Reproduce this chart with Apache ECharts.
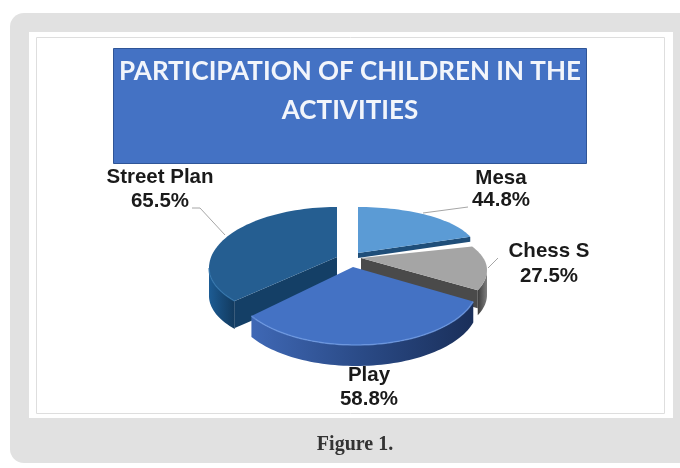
<!DOCTYPE html>
<html>
<head>
<meta charset="utf-8">
<style>
  html, body { margin: 0; padding: 0; background: #fff; }
  #main { width: 680px; height: 468px; }
</style>
<script src="https://cdn.jsdelivr.net/npm/echarts@6/dist/echarts.min.js"></script>
</head>
<body>
<div id="main"></div>
<script>
  // values
  const categories = ['Mesa', 'Chess S', 'Play', 'Street Plan'];
  const labelValues = ['44.8%', '27.5%', '58.8%', '65.5%'];
  // slices as drawn in the picture are not proportional to the labels, sweep in degrees
  const sliceSweeps = [72, 40, 124, 124];
  const titleLines = ['PARTICIPATION OF CHILDREN IN THE', 'ACTIVITIES'];
  const caption = 'Figure 1.';

  // each slice is pulled out on its own: apex, ellipse centre and radii per slice
  // pad widens the drawn arc a little where the tilted ellipses do not meet
  const sliceGeom = [
    { ax: 358, ay: 253, x: 358, y: 250, rx: 118, back: 43, front: 43, side: 0, wall: 5, order: 3, pad: [0, 0] },
    { ax: 361, ay: 258, x: 360, y: 270, rx: 127, back: 50, front: 54, side: 25, wall: 18, order: 2, pad: [10, 0] },
    { ax: 353, ay: 267, x: 356, y: 285, rx: 122, back: 46, front: 60, side: 21, wall: 0, order: 4, pad: [6, 3] },
    { ax: 337, ay: 257, x: 337, y: 268, rx: 128, back: 61, front: 55, side: 28, wall: 27, order: 1, pad: [3, 0] }
  ];
  const sliceColors = [
    { top: '#5b9bd5', wall: '#1f4e79', side: ['#1f4e79', '#1f4e79'] },
    { top: '#a5a5a5', wall: '#4a4a4a', side: ['#3c3c3c', '#7f7f7f'] },
    { top: '#4472c4', wall: '#2f5597', side: ['#3f68b5', '#2a4a86', '#1a2f5a'], rim: '#6f9be6' },
    { top: '#255e91', wall: '#143f66', side: ['#1d5c94', '#174a78', '#123a5e'], rim: '#2f74ad' }
  ];
  const labelPos = [
    { x: 501, y: 178, dy: 22 },
    { x: 549, y: 251, dy: 25 },
    { x: 369, y: 375, dy: 24 },
    { x: 160, y: 177, dy: 24 }
  ];
  const leaderLines = [
    [[423, 213], [468, 207]],
    [[488, 268], [498, 258]],
    [[192, 208], [200, 208], [225, 235]]
  ];

  function arcPoint(g, deg, drop) {
    const r = deg * Math.PI / 180;
    const c = Math.cos(r);
    return [g.x + g.rx * Math.sin(r), g.y - c * (c > 0 ? g.back : g.front) + drop];
  }
  function arcPoints(g, from, to, drop) {
    const pts = [];
    for (let a = from; a < to; a += 2) pts.push(arcPoint(g, a, drop));
    pts.push(arcPoint(g, to, drop));
    return pts;
  }
  function sideGradient(stops) {
    return new echarts.graphic.LinearGradient(0, 0, 1, 0,
      stops.map((c, i) => ({ offset: i / (stops.length - 1), color: c })));
  }

  function renderSlice(params, api) {
    const i = params.dataIndex;
    const g = sliceGeom[i];
    const col = sliceColors[i];
    let start = 0;
    for (let k = 0; k < i; k++) start += sliceSweeps[k];
    const end = start + api.value(0) + g.pad[1];
    start -= g.pad[0];
    const z = g.order * 10;
    const children = [];

    // outer wall, only where the rim faces the viewer
    const from = Math.max(start, 90);
    const to = Math.min(end, 270);
    if (g.side > 0 && to > from) {
      const upper = arcPoints(g, from, to, 0);
      const lower = arcPoints(g, from, to, g.side).reverse();
      children.push({
        type: 'polygon', z2: z,
        shape: { points: upper.concat(lower) },
        style: { fill: sideGradient(col.side) }
      });
    }
    // cut wall along the edge that faces the viewer
    if (g.wall > 0) {
      const edge = i === 3 ? start : end;
      const p = arcPoint(g, edge, 0);
      children.push({
        type: 'polygon', z2: z + 1,
        shape: { points: [[g.ax, g.ay], p, [p[0], p[1] + g.wall], [g.ax, g.ay + g.wall]] },
        style: { fill: col.wall }
      });
    }
    // top face
    children.push({
      type: 'polygon', z2: z + 2,
      shape: { points: [[g.ax, g.ay]].concat(arcPoints(g, start, end, 0)) },
      style: { fill: col.top }
    });
    if (col.rim && to > from) {
      children.push({
        type: 'polyline', z2: z + 3,
        shape: { points: arcPoints(g, from, to, 0) },
        style: { stroke: col.rim, lineWidth: 1.5, fill: 'none', opacity: 0.7 }
      });
    }
    return { type: 'group', children: children };
  }

  const textShadow = { shadowColor: 'rgba(0,0,0,0.35)', shadowBlur: 2 };
  const sliceLabels = [];
  categories.forEach((name, i) => {
    const pos = labelPos[i];
    [name, labelValues[i]].forEach((t, n) => {
      sliceLabels.push({
        type: 'text', z: 20, x: pos.x, y: pos.y + n * pos.dy,
        style: Object.assign({
          text: t, fill: '#1a1a1a', align: 'center', verticalAlign: 'middle',
          font: 'bold 20.5px "Liberation Sans", Arial, sans-serif'
        }, textShadow)
      });
    });
  });
  const leaders = leaderLines.map(pts => ({
    type: 'polyline', z: 19, shape: { points: pts },
    style: { stroke: '#a6a6a6', lineWidth: 1, fill: 'none' }
  }));

  const myChart = echarts.init(document.getElementById('main'), null, { renderer: 'canvas' });
  myChart.setOption({
    animation: false,
    backgroundColor: '#fff',
    title: [{
      text: titleLines.join('\n'),
      left: 345, top: 47, textAlign: 'center', z: 8,
      textStyle: { color: '#f2f5fb', fontFamily: 'Lato', fontWeight: 'bold', fontSize: 26, lineHeight: 39 }
    }, {
      text: caption,
      left: 350, top: 430, textAlign: 'center', z: 8,
      textStyle: { color: '#333', fontFamily: '"Liberation Serif"', fontWeight: 'bold', fontSize: 20 }
    }],
    graphic: [
      { type: 'rect', z: -5, shape: { x: 10, y: 13, width: 700, height: 450, r: 14 }, style: { fill: '#e1e1e1' } },
      { type: 'rect', z: -4, shape: { x: 29, y: 32, width: 644, height: 386 }, style: { fill: '#fff' } },
      { type: 'rect', z: -3, shape: { x: 36.5, y: 37.5, width: 628, height: 376 }, style: { fill: 'none', stroke: '#dedede', lineWidth: 1 } },
      { type: 'rect', z: -2, shape: { x: 113.5, y: 48.5, width: 473, height: 115 }, style: { fill: '#4472c4', stroke: '#2f5597', lineWidth: 1 } }
    ].concat(leaders, sliceLabels),
    series: [{
      type: 'custom',
      coordinateSystem: 'none',
      renderItem: renderSlice,
      data: sliceSweeps.map(v => [v])
    }]
  });
</script>
</body>
</html>
